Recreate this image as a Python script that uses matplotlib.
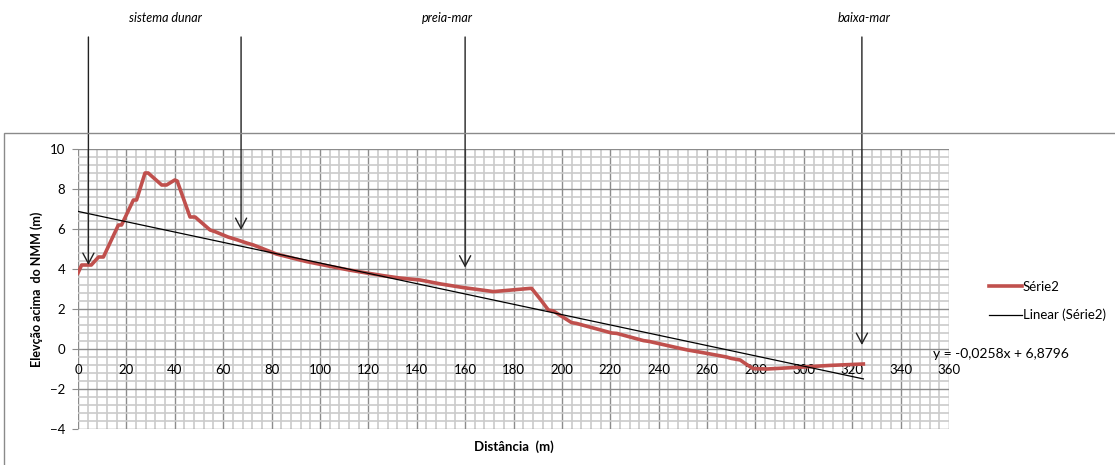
import matplotlib
matplotlib.use('Agg')
import matplotlib.pyplot as plt
import matplotlib.transforms as mtransforms
from matplotlib.patches import Rectangle
from matplotlib.ticker import MultipleLocator

# beach profile (distance along transect, elevation above mean sea level)
distancia = [0, 1.5, 5.5, 8.5, 10.5, 16.7, 18, 22.9, 24.2, 27.7, 29, 34.6, 36.6, 40, 41,
             46.3, 48.4, 54.6, 56.6, 62, 66, 69.7, 72.5, 82, 91.8, 94.5, 105.6, 112, 119.3,
             126, 132.9, 141.4, 150, 159.3, 171.7, 186.8, 187.5, 191, 194.4, 196.5, 204,
             206, 213, 220.6, 222.7, 233.7, 236, 248.9, 252, 260, 268, 270, 273.7, 275.7,
             279, 284.7, 297, 310.9, 324.6]
elevacao = [3.8, 4.2, 4.2, 4.6, 4.6, 6.2, 6.2, 7.45, 7.45, 8.8, 8.8, 8.2, 8.2, 8.45, 8.4,
            6.6, 6.6, 5.95, 5.87, 5.6, 5.45, 5.3, 5.2, 4.75, 4.45, 4.37, 4.1, 3.95, 3.8,
            3.67, 3.55, 3.45, 3.25, 3.07, 2.87, 3.03, 3.03, 2.5, 1.95, 1.9, 1.32,
            1.28, 1.05, 0.8, 0.78, 0.42, 0.38, 0.03, -0.05, -0.22, -0.4, -0.47, -0.55, -0.72,
            -0.98, -1.0, -0.92, -0.82, -0.75]

# linear trend as reported on the chart
slope, intercept = -0.0258, 6.8796

# horizontal axis labels (axis crosses at elevation 0)
xticks = list(range(0, 361, 20))

# annotated markers: (x, elevation at arrow tip)
setas_x = [4.3, 67.4, 160, 324]
setas_y = [4.2, 5.95, 4.07, 0.2]
rotulos = ['sistema dunar', 'preia-mar', 'baixa-mar']
rotulos_x = [36, 152.5, 325]

RED = '#c0504d'
MAJOR = '#8c8c8c'
MINOR = '#cbcbcb'

plt.rcParams['font.family'] = ['Lato', 'DejaVu Sans']

fig = plt.figure(figsize=(11.15, 4.65), dpi=100)
ax = fig.add_axes([78 / 1115, 1 - 429 / 465, (949 - 78) / 1115, 280 / 465])

# outer chart frame
fig.patches.append(Rectangle((4 / 1115, -0.1), 1.2, 1.1 - 133 / 465, transform=fig.transFigure,
                             fill=False, edgecolor='#8a8a8a', linewidth=1.0, zorder=0))

ax.plot(distancia, elevacao, color=RED, linewidth=2.6, label='Série2', zorder=4,
        solid_joinstyle='round')
x0, x1 = min(distancia), max(distancia)
ax.plot([x0, x1], [slope * x0 + intercept, slope * x1 + intercept], color='black',
        linewidth=0.9, label='Linear (Série2)', zorder=5)

ax.set_xlim(0, 360)
ax.set_ylim(-4, 10)
ax.set_xticks(xticks)
ax.xaxis.set_minor_locator(MultipleLocator(4))
ax.yaxis.set_major_locator(MultipleLocator(2))
ax.yaxis.set_minor_locator(MultipleLocator(0.4))
ax.grid(which='minor', color=MINOR, linewidth=1.2)
ax.grid(which='major', color=MAJOR, linewidth=1.0)
ax.set_axisbelow(True)
for s in ax.spines.values():
    s.set_visible(False)

ax.tick_params(axis='x', which='both', length=0, labelbottom=False)
ax.tick_params(axis='y', which='major', length=4, color=MAJOR, pad=5, labelsize=9.5,
               labelcolor='black')
ax.tick_params(axis='y', which='minor', length=0)

# x labels sit just under the zero line, on top of the grid
lab_trans = ax.transData + mtransforms.ScaledTranslation(0, -0.21, fig.dpi_scale_trans)
for t in xticks:
    ax.text(t, 0, f'{t}', transform=lab_trans, ha='center', va='center',
            fontsize=9.5, zorder=3, clip_on=False)

ax.set_ylabel('Elevção acima  do NMM (m)', fontsize=9, fontweight='bold', labelpad=5)
ax.text(0.5, -0.04, 'Distância  (m)', transform=ax.transAxes, ha='center', va='top',
        fontsize=9.5, fontweight='bold')

# arrows from the header down to the profile
for x, y in zip(setas_x, setas_y):
    ax.annotate('', xy=(x, y), xycoords='data',
                xytext=(x, 1 - 37 / 465), textcoords=('data', 'figure fraction'),
                arrowprops=dict(arrowstyle='->,head_length=0.75,head_width=0.4',
                                color='#222222', lw=1.0, shrinkA=0, shrinkB=0),
                annotation_clip=False, zorder=6)

trans = mtransforms.blended_transform_factory(ax.transData, fig.transFigure)
for x, t in zip(rotulos_x, rotulos):
    ax.text(x, 1 - 18 / 465, t, transform=trans, ha='center', va='center',
            fontsize=9, style='italic', clip_on=False)

ax.legend(loc='center left', bbox_to_anchor=(982 / 1115, 1 - 301 / 465),
          bbox_transform=fig.transFigure, frameon=False, fontsize=9.5,
          handlelength=2.5, handletextpad=0.1, labelspacing=1.2, borderpad=0)

ax.text(933 / 1115, 1 - 354 / 465, 'y = -0,0258x + 6,8796', transform=fig.transFigure,
        ha='left', va='center', fontsize=10)

fig.savefig('out.png', dpi=100)
